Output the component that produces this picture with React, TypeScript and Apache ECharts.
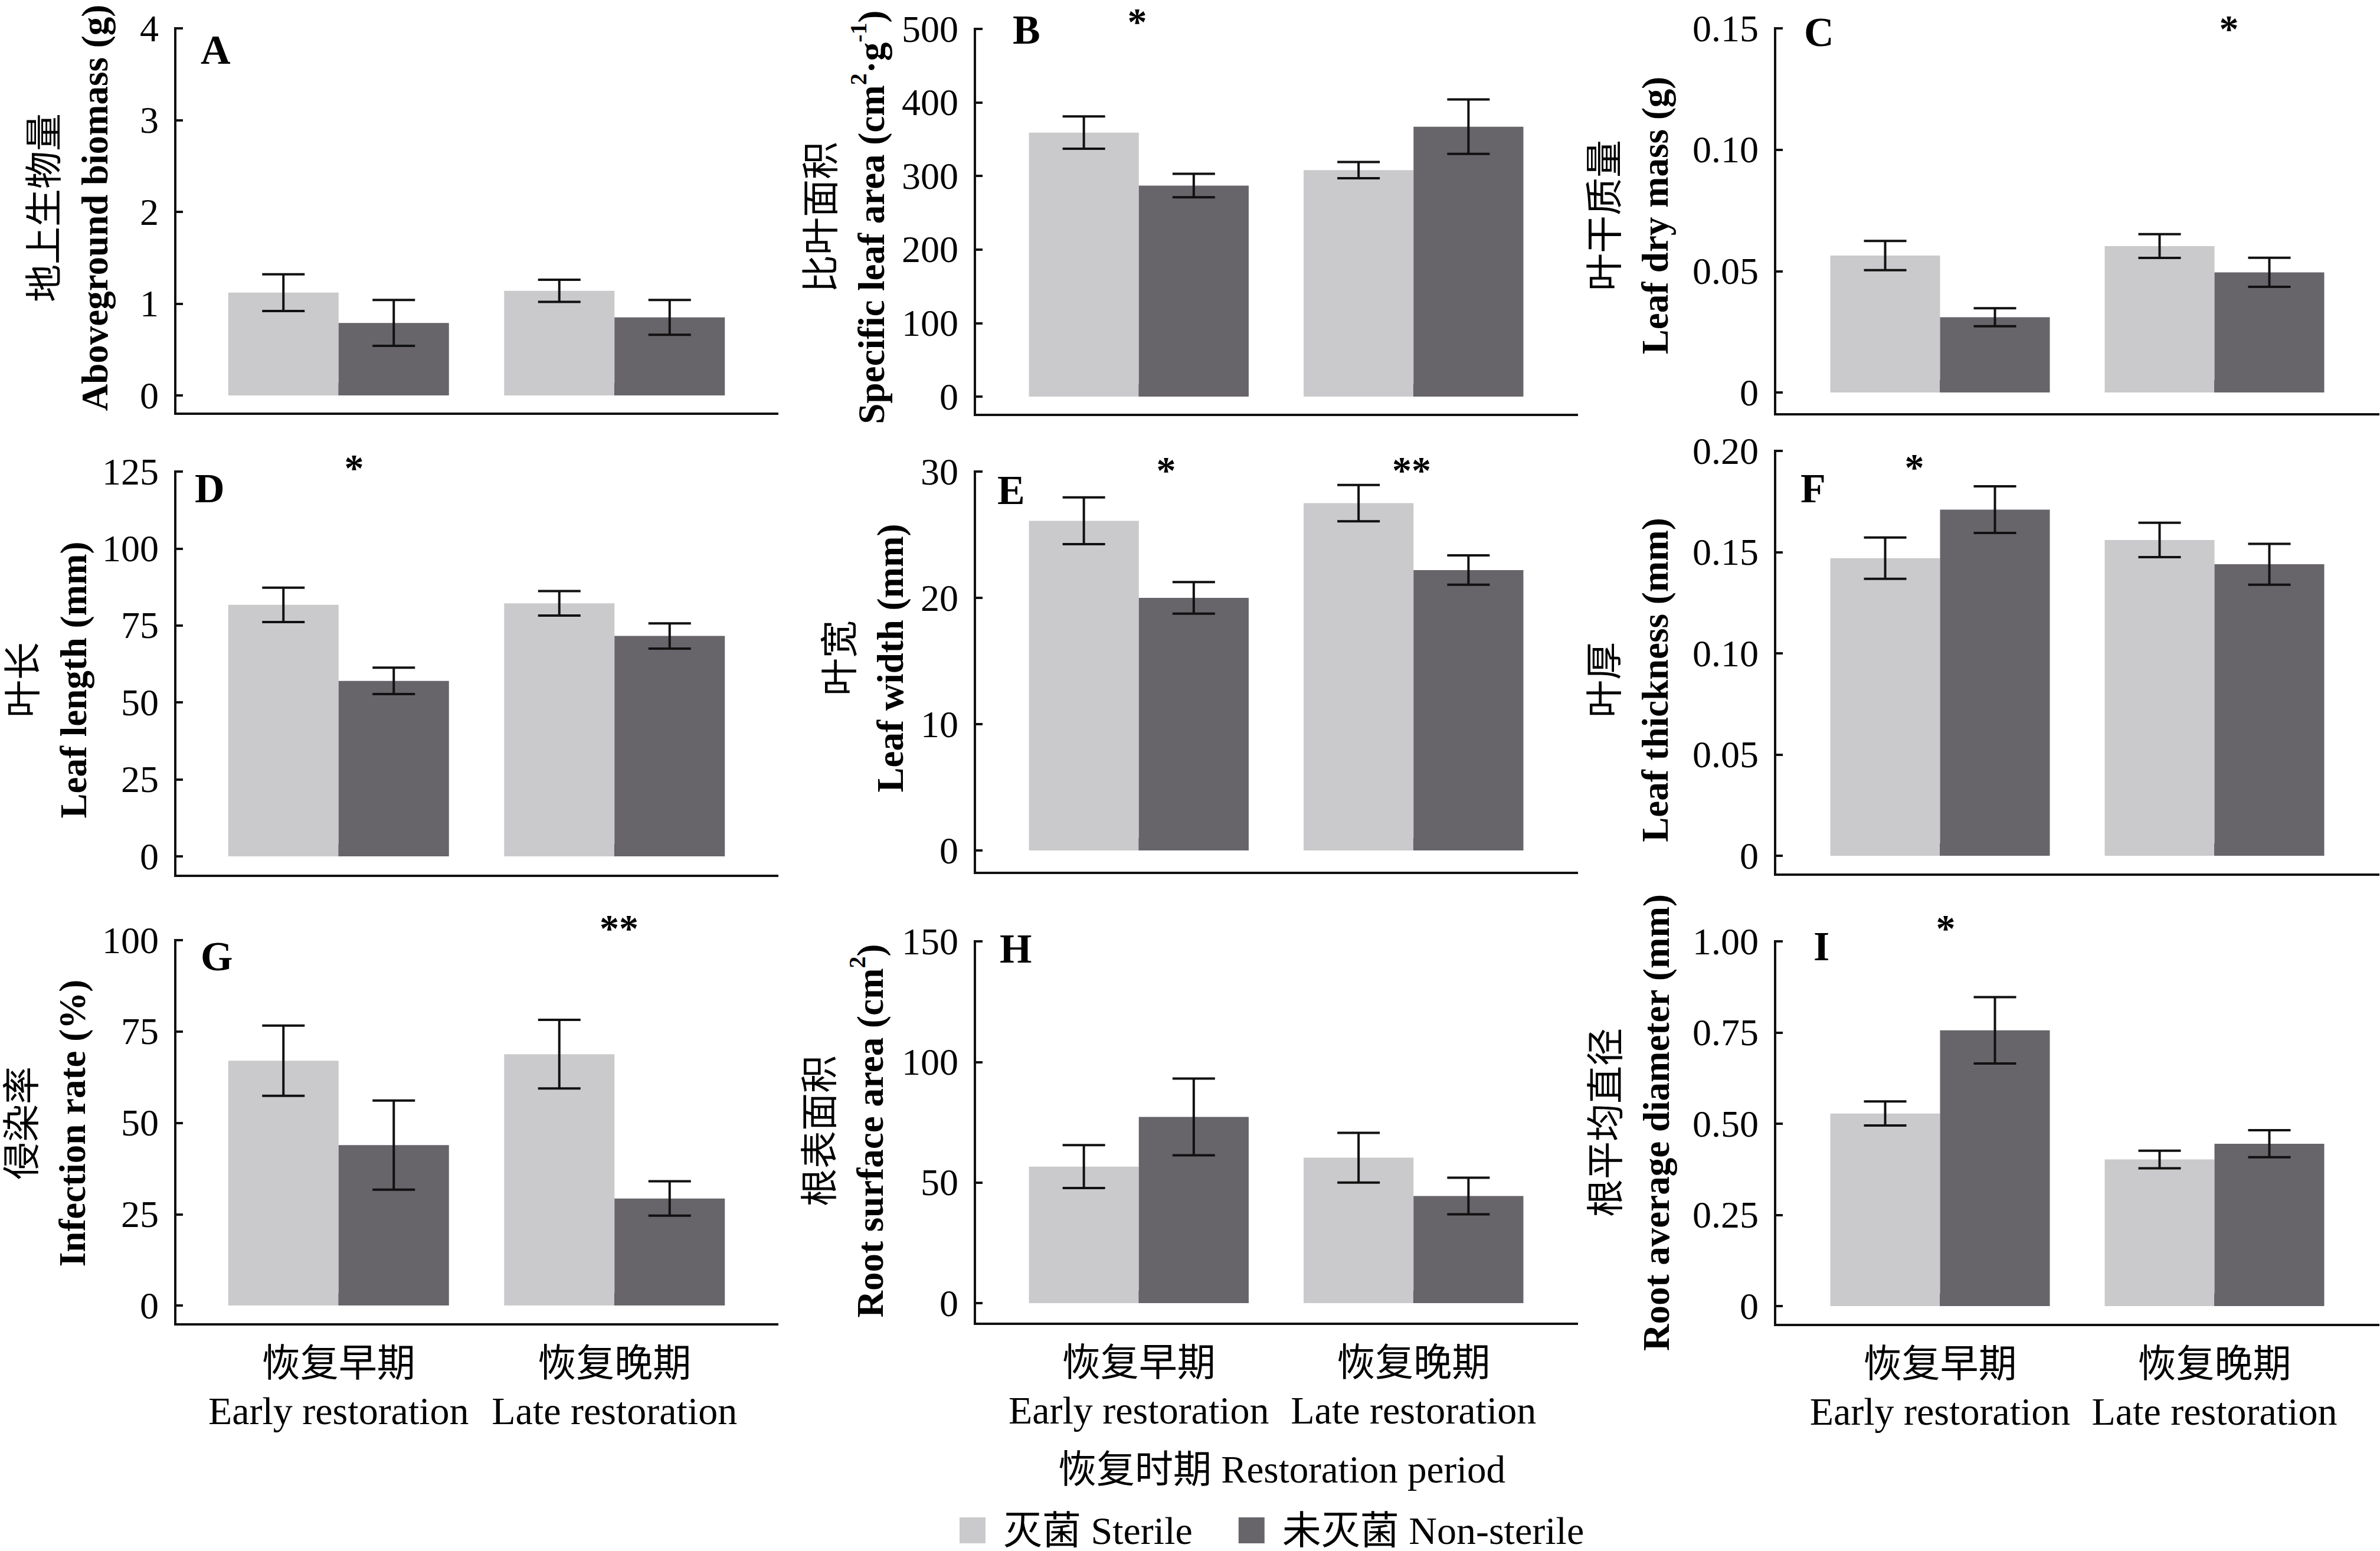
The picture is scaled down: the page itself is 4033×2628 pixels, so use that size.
import { useEffect, useRef } from "react";
import * as echarts from "echarts";

// ---- data ----
const PERIODS_CN = ["恢复早期", "恢复晚期"];
const PERIODS_EN = ["Early restoration", "Late restoration"];
const SERIES_NAMES = ["灭菌 Sterile", "未灭菌 Non-sterile"];
const PANEL_LETTERS = ["A", "B", "C", "D", "E", "F", "G", "H", "I"];

const TITLES_CN = ["地上生物量", "比叶面积", "叶干质量", "叶长", "叶宽", "叶厚", "侵染率", "根表面积", "根平均直径"];
const TITLES_EN = [
  "Aboveground biomass (g)",
  "Specific leaf area (cm^{2}·g^{-1})",
  "Leaf dry mass (g)",
  "Leaf length (mm)",
  "Leaf width (mm)",
  "Leaf thickness (mm)",
  "Infection rate (%)",
  "Root surface area (cm^{2})",
  "Root average diameter (mm)",
];

const Y_MAX = [4, 500, 0.15, 125, 30, 0.2, 100, 150, 1];
const Y_STEP = [1, 100, 0.05, 25, 10, 0.05, 25, 50, 0.25];
const Y_DECIMALS = [0, 0, 2, 0, 0, 2, 0, 0, 2];

const STERILE_MEAN = [
  [1.12, 1.14], [359, 308], [0.0564, 0.0603],
  [81.7, 82.2], [26.1, 27.5], [0.147, 0.156],
  [67.0, 68.8], [56.6, 60.3], [0.528, 0.402],
];
const STERILE_SE = [
  [0.2, 0.12], [22, 11], [0.006, 0.0049],
  [5.6, 4.0], [1.85, 1.44], [0.0102, 0.0085],
  [9.6, 9.4], [8.9, 10.3], [0.033, 0.024],
];
const NONSTERILE_MEAN = [
  [0.79, 0.85], [287, 367], [0.031, 0.0495],
  [57.0, 71.6], [20.0, 22.2], [0.171, 0.144],
  [43.9, 29.3], [77.2, 44.4], [0.756, 0.445],
];
const NONSTERILE_SE = [
  [0.25, 0.19], [16, 37], [0.0037, 0.006],
  [4.3, 4.1], [1.25, 1.16], [0.0115, 0.0101],
  [12.2, 4.7], [15.9, 7.6], [0.091, 0.037],
];

// significance marks per panel, per period
const SIG = [
  ["", ""], ["*", ""], ["", "*"],
  ["*", ""], ["*", "**"], ["*", ""],
  ["", "**"], ["", ""], ["*", ""],
];

// ---- layout (pixels) ----
const COLS = [
  { yx: 297, xEnd: 1317, catL: 340, catR: 1275 },
  { yx: 1652, xEnd: 2672, catL: 1697, catR: 2628 },
  { yx: 3008, xEnd: 4030, catL: 3055, catR: 3985 },
];
// top tick, zero line, x axis line
const ROWS = [
  { top: 48, zero: 670, axisY: 701 },
  { top: 49, zero: 672, axisY: 703 },
  { top: 48, zero: 665, axisY: 702 },
  { top: 799, zero: 1451, axisY: 1484 },
  { top: 799, zero: 1441, axisY: 1479 },
  { top: 764, zero: 1450, axisY: 1482 },
  { top: 1593, zero: 2212, axisY: 2244 },
  { top: 1595, zero: 2208, axisY: 2243 },
  { top: 1595, zero: 2213, axisY: 2245 },
];
const TITLE_XY = [
  [118, 352], [1434, 368], [2762, 365],
  [82, 1152], [1466, 1115], [2762, 1152],
  [80, 1903], [1432, 1916], [2764, 1902],
];
const LETTER_XY = [
  [340, 84], [1716, 50], [3057, 54],
  [330, 827], [1690, 830], [3051, 827],
  [340, 1620], [1694, 1607], [3073, 1603],
];
const STAR_XY: (number[] | null)[][] = [
  [null, null], [[1927, 26], null], [null, [3777, 38]],
  [[600, 782], null], [[1976, 786], [2392, 786]], [[3244, 781], null],
  [null, [1049, 1562]], [null, null], [[3297, 1562], null],
];

const FONT = "'Liberation Serif', 'Noto Sans CJK SC', serif";
const LIGHT = "#cacacc";
const DARK = "#67656a";
const INK = "#111111";

const axisLine = { color: INK, width: 4, cap: "square" as const };

function enRich(s: string) {
  return "{en|" + s.replace(/\^\{([^}]*)\}/g, "}{sup|$1}{en|") + "}";
}

function errorBar(side: number) {
  return (_params: any, api: any) => {
    const cat = api.value(0);
    const band = api.size([1, 0])[0];
    const x = api.coord([cat, 0])[0] + side * band * 0.2;
    const yLo = api.coord([cat, api.value(1)])[1];
    const yHi = api.coord([cat, api.value(2)])[1];
    const cap = 36;
    const style = { stroke: INK, lineWidth: 4 };
    return {
      type: "group",
      children: [
        { type: "line", shape: { x1: x, y1: yHi, x2: x, y2: yLo }, style },
        { type: "line", shape: { x1: x - cap, y1: yHi, x2: x + cap, y2: yHi }, style },
        { type: "line", shape: { x1: x - cap, y1: yLo, x2: x + cap, y2: yLo }, style },
      ],
    };
  };
}

function buildOption() {
  const grid: any[] = [];
  const xAxis: any[] = [];
  const yAxis: any[] = [];
  const series: any[] = [];
  const graphic: any[] = [];

  PANEL_LETTERS.forEach((letter, p) => {
    const c = COLS[p % 3];
    const r = ROWS[p];
    const bottomRow = p >= 6;

    // frame: the L-shaped axis lines
    const fg = grid.length;
    grid.push({ left: c.yx, top: r.top, width: c.xEnd - c.yx, height: r.axisY - r.top });
    xAxis.push({
      gridIndex: fg, type: "value", min: 0, max: 1,
      axisLine: { show: true, onZero: false, lineStyle: axisLine },
      axisTick: { show: false }, axisLabel: { show: false }, splitLine: { show: false },
    });
    yAxis.push({
      gridIndex: fg, type: "value", min: 0, max: 1,
      axisLine: { show: true, onZero: false, lineStyle: axisLine },
      axisTick: { show: false }, axisLabel: { show: false }, splitLine: { show: false },
    });

    // data grid
    const dg = grid.length;
    grid.push({ left: c.catL, top: r.top, width: c.catR - c.catL, height: r.zero - r.top });
    xAxis.push({
      gridIndex: dg,
      type: "category",
      data: PERIODS_CN.map((cn, i) => `{cn|${cn}}\n{en|${PERIODS_EN[i]}}`),
      offset: r.axisY - r.zero,
      axisLine: { show: false },
      axisTick: { show: true, inside: true, alignWithLabel: true, interval: 0, length: 21, lineStyle: { color: INK, width: 4 } },
      axisLabel: {
        show: bottomRow,
        interval: 0,
        margin: 26,
        color: "#000",
        rich: {
          cn: { fontSize: 65, fontFamily: FONT, lineHeight: 80, color: "#000" },
          en: { fontSize: 66, fontFamily: FONT, lineHeight: 80, color: "#000" },
        },
      },
      splitLine: { show: false },
    });
    const dec = Y_DECIMALS[p];
    yAxis.push({
      gridIndex: dg,
      type: "value",
      min: 0,
      max: Y_MAX[p],
      interval: Y_STEP[p],
      offset: c.catL - c.yx,
      axisLine: { show: false },
      axisTick: { show: true, inside: true, length: 13, lineStyle: { color: INK, width: 4 } },
      axisLabel: {
        margin: 28,
        fontSize: 64,
        fontFamily: FONT,
        color: "#000",
        formatter: (v: number) => (v === 0 ? "0" : v.toFixed(dec)),
      },
      splitLine: { show: false },
    });
    const xi = xAxis.length - 1;
    const yi = yAxis.length - 1;

    const groups = [
      { name: SERIES_NAMES[0], mean: STERILE_MEAN[p], se: STERILE_SE[p], color: LIGHT, side: -1 },
      { name: SERIES_NAMES[1], mean: NONSTERILE_MEAN[p], se: NONSTERILE_SE[p], color: DARK, side: 1 },
    ];
    groups.forEach((g) => {
      series.push({
        type: "bar",
        name: g.name,
        xAxisIndex: xi,
        yAxisIndex: yi,
        data: g.mean,
        barGap: "0%",
        barCategoryGap: "20%",
        itemStyle: { color: g.color },
        silent: true,
      });
    });
    groups.forEach((g) => {
      series.push({
        type: "custom",
        name: "err",
        xAxisIndex: xi,
        yAxisIndex: yi,
        data: g.mean.map((m, i) => [i, m - g.se[i], m + g.se[i]]),
        encode: { x: 0, y: [1, 2] },
        renderItem: errorBar(g.side),
        z: 5,
        silent: true,
      });
    });

    // panel letter
    graphic.push({
      type: "text",
      x: LETTER_XY[p][0],
      y: LETTER_XY[p][1],
      style: { text: letter, fontSize: 70, fontWeight: "bold", fontFamily: FONT, fill: "#000", align: "left", verticalAlign: "middle" },
    });

    // y-axis title, two lines
    graphic.push({
      type: "text",
      x: TITLE_XY[p][0],
      y: TITLE_XY[p][1],
      rotation: Math.PI / 2,
      style: {
        text: `{cn|${TITLES_CN[p]}}\n${enRich(TITLES_EN[p])}`,
        align: "center",
        verticalAlign: "middle",
        fill: "#000",
        rich: {
          cn: { fontSize: 64, fontFamily: FONT, lineHeight: 86, fill: "#000" },
          en: { fontSize: 63, fontWeight: "bold", fontFamily: FONT, lineHeight: 86, fill: "#000" },
          sup: { fontSize: 40, fontWeight: "bold", fontFamily: FONT, lineHeight: 58, verticalAlign: "top", fill: "#000" },
        },
      },
    });

    // significance marks
    SIG[p].forEach((mark, i) => {
      const pos = STAR_XY[p][i];
      if (!mark || !pos) return;
      graphic.push({
        type: "text",
        x: pos[0],
        y: pos[1] + 10,
        style: { text: mark, fontSize: 66, fontWeight: "bold", fontFamily: FONT, fill: "#000", align: "center", verticalAlign: "middle" },
      });
    });
  });

  graphic.push({
    type: "text",
    x: 2172,
    y: 2490,
    style: {
      text: "恢复时期 Restoration period",
      fontSize: 65,
      fontFamily: FONT,
      fill: "#000",
      align: "center",
      verticalAlign: "middle",
    },
  });

  return {
    animation: false,
    backgroundColor: "#ffffff",
    grid,
    xAxis,
    yAxis,
    series,
    graphic,
    legend: {
      data: SERIES_NAMES,
      left: 1626,
      top: 2560,
      padding: 0,
      icon: "rect",
      itemWidth: 44,
      itemHeight: 44,
      itemGap: 78,
      selectedMode: false,
      textStyle: { fontSize: 66, fontFamily: FONT, color: "#000", padding: [0, 0, 0, 25] },
    },
  };
}

export default function App() {
  const ref = useRef<HTMLDivElement>(null);

  useEffect(() => {
    document.body.style.margin = "0";
    if (!ref.current) return;
    const chart = echarts.init(ref.current, undefined, { renderer: "svg" });
    chart.setOption(buildOption() as any);
    return () => chart.dispose();
  }, []);

  return (
    <div
      ref={ref}
      style={{ position: "absolute", left: 0, top: 0, width: 4033, height: 2628, background: "#fff" }}
    />
  );
}
